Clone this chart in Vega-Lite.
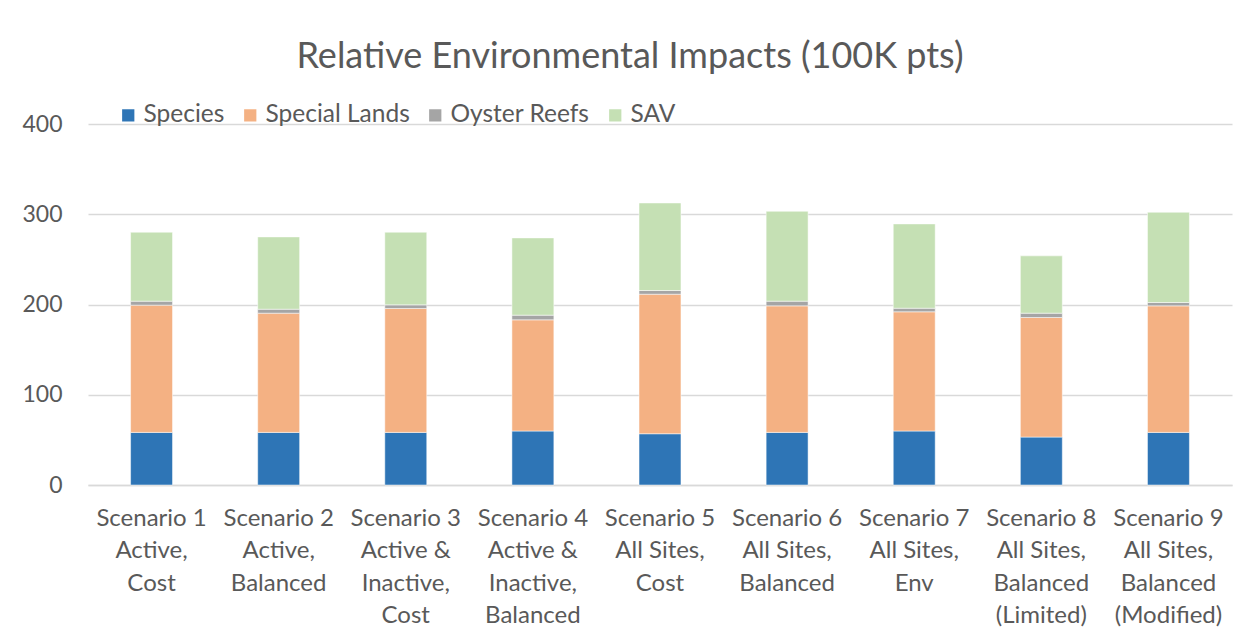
{
  "$schema": "https://vega.github.io/schema/vega-lite/v6.json",
  "width": 1144,
  "height": 361,
  "autosize": {"type": "none"},
  "padding": {"left": 88, "top": 124, "right": 19, "bottom": 154},
  "background": "white",
  "title": {
    "text": "Relative Environmental Impacts (100K pts)",
    "font": "Lato",
    "fontSize": 36,
    "fontWeight": "normal",
    "color": "#595959",
    "anchor": "middle",
    "dx": -30,
    "offset": 27
  },
  "data": {
    "values": [
      {"scenario": "Scenario 1|Active,|Cost", "category": "Species", "rank": 1, "value": 58.3},
      {"scenario": "Scenario 1|Active,|Cost", "category": "Special Lands", "rank": 2, "value": 141},
      {"scenario": "Scenario 1|Active,|Cost", "category": "Oyster Reefs", "rank": 3, "value": 4.4},
      {"scenario": "Scenario 1|Active,|Cost", "category": "SAV", "rank": 4, "value": 76.4},
      {"scenario": "Scenario 2|Active,|Balanced", "category": "Species", "rank": 1, "value": 58.3},
      {"scenario": "Scenario 2|Active,|Balanced", "category": "Special Lands", "rank": 2, "value": 132.1},
      {"scenario": "Scenario 2|Active,|Balanced", "category": "Oyster Reefs", "rank": 3, "value": 4.4},
      {"scenario": "Scenario 2|Active,|Balanced", "category": "SAV", "rank": 4, "value": 80.1},
      {"scenario": "Scenario 3|Active &|Inactive,|Cost", "category": "Species", "rank": 1, "value": 58.3},
      {"scenario": "Scenario 3|Active &|Inactive,|Cost", "category": "Special Lands", "rank": 2, "value": 137.3},
      {"scenario": "Scenario 3|Active &|Inactive,|Cost", "category": "Oyster Reefs", "rank": 3, "value": 4},
      {"scenario": "Scenario 3|Active &|Inactive,|Cost", "category": "SAV", "rank": 4, "value": 80.5},
      {"scenario": "Scenario 4|Active &|Inactive,|Balanced", "category": "Species", "rank": 1, "value": 59.8},
      {"scenario": "Scenario 4|Active &|Inactive,|Balanced", "category": "Special Lands", "rank": 2, "value": 123.2},
      {"scenario": "Scenario 4|Active &|Inactive,|Balanced", "category": "Oyster Reefs", "rank": 3, "value": 5.2},
      {"scenario": "Scenario 4|Active &|Inactive,|Balanced", "category": "SAV", "rank": 4, "value": 85.6},
      {"scenario": "Scenario 5|All Sites,|Cost", "category": "Species", "rank": 1, "value": 56.8},
      {"scenario": "Scenario 5|All Sites,|Cost", "category": "Special Lands", "rank": 2, "value": 154.6},
      {"scenario": "Scenario 5|All Sites,|Cost", "category": "Oyster Reefs", "rank": 3, "value": 4.1},
      {"scenario": "Scenario 5|All Sites,|Cost", "category": "SAV", "rank": 4, "value": 97},
      {"scenario": "Scenario 6|All Sites,|Balanced", "category": "Species", "rank": 1, "value": 58.3},
      {"scenario": "Scenario 6|All Sites,|Balanced", "category": "Special Lands", "rank": 2, "value": 140.2},
      {"scenario": "Scenario 6|All Sites,|Balanced", "category": "Oyster Reefs", "rank": 3, "value": 5.2},
      {"scenario": "Scenario 6|All Sites,|Balanced", "category": "SAV", "rank": 4, "value": 99.6},
      {"scenario": "Scenario 7|All Sites,|Env", "category": "Species", "rank": 1, "value": 59.8},
      {"scenario": "Scenario 7|All Sites,|Env", "category": "Special Lands", "rank": 2, "value": 132.1},
      {"scenario": "Scenario 7|All Sites,|Env", "category": "Oyster Reefs", "rank": 3, "value": 4},
      {"scenario": "Scenario 7|All Sites,|Env", "category": "SAV", "rank": 4, "value": 93.4},
      {"scenario": "Scenario 8|All Sites,|Balanced|(Limited)", "category": "Species", "rank": 1, "value": 53.1},
      {"scenario": "Scenario 8|All Sites,|Balanced|(Limited)", "category": "Special Lands", "rank": 2, "value": 132.5},
      {"scenario": "Scenario 8|All Sites,|Balanced|(Limited)", "category": "Oyster Reefs", "rank": 3, "value": 4.8},
      {"scenario": "Scenario 8|All Sites,|Balanced|(Limited)", "category": "SAV", "rank": 4, "value": 63.5},
      {"scenario": "Scenario 9|All Sites,|Balanced|(Modified)", "category": "Species", "rank": 1, "value": 58.3},
      {"scenario": "Scenario 9|All Sites,|Balanced|(Modified)", "category": "Special Lands", "rank": 2, "value": 140.2},
      {"scenario": "Scenario 9|All Sites,|Balanced|(Modified)", "category": "Oyster Reefs", "rank": 3, "value": 3.7},
      {"scenario": "Scenario 9|All Sites,|Balanced|(Modified)", "category": "SAV", "rank": 4, "value": 100}
    ]
  },
  "mark": {"type": "bar", "stroke": "white", "strokeWidth": 0.5},
  "encoding": {
    "x": {
      "field": "scenario",
      "type": "nominal",
      "sort": null,
      "scale": {"paddingInner": 0.67, "paddingOuter": 0.335},
      "axis": {
        "title": null,
        "labelAngle": 0,
        "labelExpr": "split(datum.label, '|')",
        "labelFont": "Lato",
        "labelFontSize": 24,
        "labelColor": "#595959",
        "labelLineHeight": 32.5,
        "labelPadding": 21,
        "labelBaseline": "top",
        "ticks": false,
        "domain": true,
        "domainColor": "#d9d9d9",
        "domainWidth": 1.5,
        "grid": false
      }
    },
    "y": {
      "field": "value",
      "type": "quantitative",
      "stack": "zero",
      "scale": {"domain": [0, 400], "nice": false},
      "axis": {
        "title": null,
        "values": [0, 100, 200, 300, 400],
        "labelFont": "Lato",
        "labelFontSize": 23,
        "labelColor": "#595959",
        "labelPadding": 26,
        "ticks": false,
        "domain": false,
        "grid": true,
        "gridColor": "#d9d9d9",
        "gridWidth": 1.5
      }
    },
    "order": {"field": "rank", "type": "quantitative", "sort": "ascending"},
    "color": {
      "field": "category",
      "type": "nominal",
      "sort": ["Species", "Special Lands", "Oyster Reefs", "SAV"],
      "scale": {
        "domain": ["Species", "Special Lands", "Oyster Reefs", "SAV"],
        "range": ["#2E75B6", "#F4B183", "#A5A5A5", "#C5E0B4"]
      },
      "legend": {
        "title": null,
        "orient": "none",
        "direction": "horizontal",
        "legendX": 28,
        "legendY": -21,
        "symbolType": "square",
        "symbolSize": 150,
        "symbolStrokeWidth": 0,
        "labelFont": "Lato",
        "labelFontSize": 24.5,
        "labelColor": "#595959",
        "labelOffset": 3,
        "columnPadding": 13
      }
    }
  },
  "config": {"view": {"stroke": null}}
}
